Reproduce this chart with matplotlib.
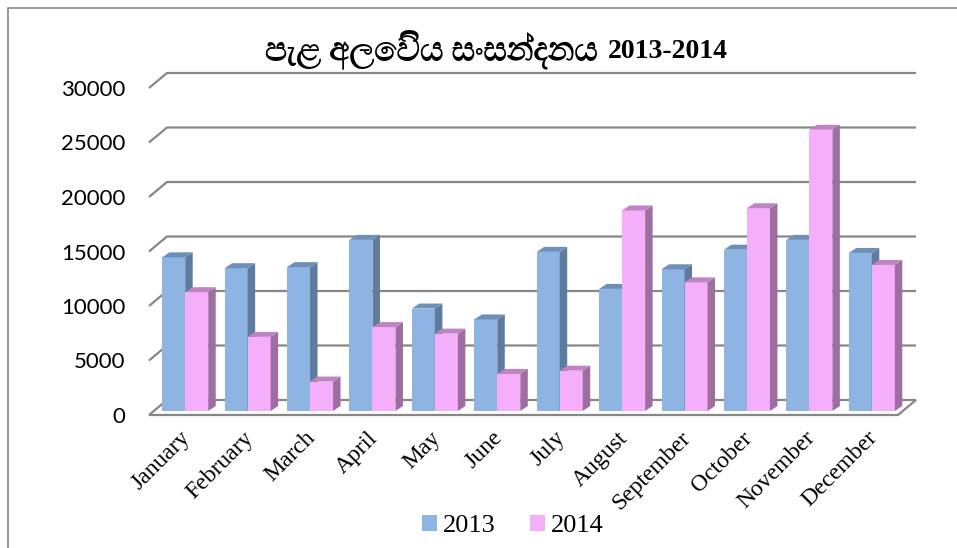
import matplotlib
matplotlib.use("Agg")
import matplotlib.pyplot as plt
from matplotlib.patches import Polygon, Rectangle

# ── Data ───────────────────────────────────────────────────────────────────────

months = ["January", "February", "March", "April", "May", "June", "July",
          "August", "September", "October", "November", "December"]
sales_2013 = [14100, 13100, 13200, 15700, 9400, 8400, 14600, 11200, 13000, 14800, 15700, 14500]
sales_2014 = [10900, 6800, 2700, 7700, 7100, 3400, 3700, 18400, 11800, 18600, 25800, 13400]
yticks = [0, 5000, 10000, 15000, 20000, 25000, 30000]
title_si = "පැළ අලෙවිය සංසන්දනය"
title_yr = "2013-2014"

# ── Figure / axes (front plane of the fake 3-D box) ───────────────────────────

W, H = 957, 548
fig = plt.figure(figsize=(W / 100, H / 100), dpi=100)
x0, x1, yb, yt = 149, 898, 415, 88          # pixel extent of front plane
ax = fig.add_axes([x0 / W, 1 - yb / H, (x1 - x0) / W, (yb - yt) / H])
ax.set_xlim(0, 12)
ax.set_ylim(0, 30000)
for s in ax.spines.values():
    s.set_visible(False)

px_x = 12 / (x1 - x0)          # data units per pixel
px_y = 30000 / (yb - yt)

# depth of the box and of the bars, in data units
DX, DY = 18 * px_x, 15 * px_y
BDX, BDY = 7.5 * px_x, 5 * px_y
bar_w = 23 * px_x
base = 4 * px_y
shift = 5 * px_x

grid_c = "#878787"

# back wall gridlines with the short diagonal on the left
for v in yticks[1:]:
    ax.plot([0, DX, 12 + DX], [v, v + DY, v + DY], color=grid_c, lw=1.6,
            clip_on=False, zorder=1, solid_capstyle="butt")

# floor
ax.add_patch(Polygon([(0, 0), (DX, DY), (12 + DX, DY), (12, 0)], closed=True,
                     facecolor="white", edgecolor=grid_c, lw=1.6,
                     clip_on=False, zorder=1))

colors = [("#8DB4E2", "#5F7C9E", "#6D8FB8"),   # front, side, top
          ("#F4AEFA", "#9E6EA0", "#BF84C2")]

for i in range(12):
    for s, vals in enumerate([sales_2013, sales_2014]):
        v = vals[i]
        fc, sc, tc = colors[s]
        xl = i + 0.5 + shift - bar_w + s * bar_w
        xr = xl + bar_w
        top = base + v
        ax.add_patch(Rectangle((xl, base), bar_w, v, facecolor=fc,
                               edgecolor="none", zorder=2, clip_on=False))
        ax.add_patch(Polygon([(xr, base), (xr + BDX, base + BDY),
                              (xr + BDX, top + BDY), (xr, top)],
                             facecolor=sc, edgecolor="none", zorder=2, clip_on=False))
        ax.add_patch(Polygon([(xl, top), (xl + BDX, top + BDY),
                              (xr + BDX, top + BDY), (xr, top)],
                             facecolor=tc, edgecolor="none", zorder=2, clip_on=False))

# ── Axes labels ────────────────────────────────────────────────────────────────

ax.set_yticks(yticks)
ax.set_yticklabels([str(t) for t in yticks], fontsize=16, family="Lato")
ax.tick_params(axis="y", length=0, pad=17)

ax.set_xticks([i + 0.5 for i in range(12)])
ax.set_xticklabels(months, rotation=45, ha="right", rotation_mode="anchor",
                   fontsize=17, family="Liberation Serif")
ax.tick_params(axis="x", length=0, pad=9)

# ── Legend ────────────────────────────────────────────────────────────────────

handles = [Rectangle((0, 0), 1, 1, facecolor=colors[0][0]),
           Rectangle((0, 0), 1, 1, facecolor=colors[1][0])]
fig.legend(handles, ["2013", "2014"], loc="center", bbox_to_anchor=(513 / W, 1 - 526 / H),
           ncol=2, frameon=False, prop={"family": "Liberation Serif", "size": 19},
           handlelength=0.55, handleheight=0.6, handletextpad=0.25, columnspacing=1.3)

# ── Title ────────────────────────────────────────────────────────────────────

fig.text(598 / W, 1 - 49 / H, title_si, ha="right", va="center",
         fontsize=23.5, fontweight="bold", family="FreeSerif")
fig.text(608 / W, 1 - 51 / H, title_yr, ha="left", va="center",
         fontsize=20, fontweight="bold", family="Liberation Serif")

# chart area border
fig.add_artist(Rectangle((8 / W, -0.1), 2, 1.1 - 8 / H, transform=fig.transFigure,
                         facecolor="none", edgecolor="#8a8a8a", lw=1.2))

fig.savefig("out.png", dpi=100)
